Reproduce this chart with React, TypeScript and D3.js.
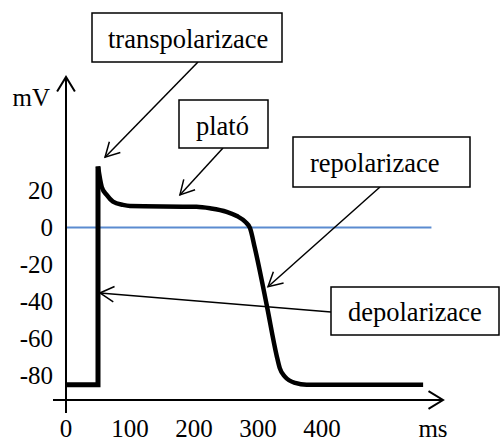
import React from "react";
import * as d3 from "d3";

// resting phase + upstroke (t in ms, v in mV)
const restPhase = [
  { t: 0, v: -85 },
  { t: 50, v: -85 },
  { t: 50, v: 33 },
];

// peak -> plateau -> repolarization -> rest
const actionPotential = [
  { t: 50, v: 33 },
  { t: 55.8, v: 22 },
  { t: 63.6, v: 17.6 },
  { t: 73.4, v: 14 },
  { t: 89, v: 12.2 },
  { t: 100, v: 11.6 },
  { t: 204, v: 11.2 },
  { t: 225, v: 10.4 },
  { t: 251, v: 8.5 },
  { t: 267, v: 6.2 },
  { t: 280, v: 3.1 },
  { t: 287.5, v: -0.3 },
  { t: 295, v: -11 },
  { t: 313.6, v: -41.9 },
  { t: 329, v: -69 },
  { t: 334, v: -76 },
  { t: 342, v: -80.6 },
  { t: 358, v: -84 },
  { t: 376, v: -85 },
  { t: 558, v: -85 },
];

const xTicks = [0, 100, 200, 300, 400];
const yTicks = [20, 0, -20, -40, -60, -80];
const zeroLineEnd = 571; // ms

const annotationLabels = ["transpolarizace", "plató", "repolarizace", "depolarizace"];
// where each arrow points, in chart units
const annotationTargets = [
  { t: 61, v: 38 },
  { t: 178, v: 17.6 },
  { t: 315.6, v: -32 },
  { t: 53, v: -35.4 },
];

const W = 501;
const H = 441;
const FONT = '"Liberation Serif"';

const x = d3.scaleLinear().domain([0, 400]).range([66, 322]);
const y = d3.scaleLinear().domain([-80, 20]).range([375.5, 190.5]);

// box layouts for the annotations
const boxes = [
  { x0: 92, y0: 13, w: 190, h: 49, tx: 108, ty: 48, from: [198, 62] },
  { x0: 179, y0: 100, w: 89, h: 48, tx: 196, ty: 135, from: [223, 148] },
  { x0: 293, y0: 137, w: 177, h: 50, tx: 310, ty: 172, from: [380, 187] },
  { x0: 331, y0: 287, w: 168, h: 48, tx: 348, ty: 321, from: [331, 312] },
];

function arrowHead(tx: number, ty: number, fx: number, fy: number, len: number, ang: number) {
  const a = Math.atan2(fy - ty, fx - tx);
  const p1 = [tx + len * Math.cos(a + ang), ty + len * Math.sin(a + ang)];
  const p2 = [tx + len * Math.cos(a - ang), ty + len * Math.sin(a - ang)];
  return `M${p1[0]},${p1[1]}L${tx},${ty}L${p2[0]},${p2[1]}`;
}

export default function App() {
  const linear = d3
    .line<{ t: number; v: number }>()
    .x((d) => x(d.t))
    .y((d) => y(d.v));
  const smooth = d3
    .line<{ t: number; v: number }>()
    .x((d) => x(d.t))
    .y((d) => y(d.v))
    .curve(d3.curveMonotoneX);

  const axisY = 400;
  const axisX = x(0);
  const txt = { fontFamily: FONT };

  return (
    <div style={{ position: "absolute", left: 0, top: 0 }}>
      <svg width={W} height={H} style={{ display: "block", background: "#fff" }}>
        {/* zero line */}
        <line x1={x(0)} x2={x(zeroLineEnd)} y1={y(0)} y2={y(0)} stroke="#5B8BD0" strokeWidth={2} />

        {/* axes */}
        <line x1={53} x2={443} y1={axisY} y2={axisY} stroke="#000" strokeWidth={2} />
        <path d={arrowHead(443, axisY, 400, axisY, 17, 0.55)} fill="none" stroke="#000" strokeWidth={2} />
        <line x1={axisX} x2={axisX} y1={77} y2={413} stroke="#000" strokeWidth={2} />
        <path d={arrowHead(axisX, 77, axisX, 200, 17, 0.55)} fill="none" stroke="#000" strokeWidth={2} />

        {/* tick labels */}
        {yTicks.map((v) => (
          <text key={v} x={53} y={y(v)} dy="0.35em" textAnchor="end" style={txt} fontSize={25}>
            {v}
          </text>
        ))}
        {xTicks.map((t) => (
          <text key={t} x={x(t)} y={437} textAnchor="middle" style={txt} fontSize={25}>
            {t}
          </text>
        ))}
        <text x={50} y={106} textAnchor="end" style={txt} fontSize={25}>
          mV
        </text>
        <text x={433} y={437} textAnchor="middle" style={txt} fontSize={25}>
          ms
        </text>

        {/* action potential trace */}
        <path d={linear(restPhase) ?? ""} fill="none" stroke="#000" strokeWidth={5} strokeLinejoin="miter" />
        <path d={smooth(actionPotential) ?? ""} fill="none" stroke="#000" strokeWidth={4.5} strokeLinejoin="round" />

        {/* annotations */}
        {annotationLabels.map((label, i) => {
          const b = boxes[i];
          const tx = x(annotationTargets[i].t);
          const ty = y(annotationTargets[i].v);
          const [fx, fy] = b.from;
          return (
            <g key={label}>
              <line x1={fx} y1={fy} x2={tx} y2={ty} stroke="#000" strokeWidth={1.5} />
              <path d={arrowHead(tx, ty, fx, fy, 16, 0.5)} fill="none" stroke="#000" strokeWidth={1.5} />
              <rect x={b.x0} y={b.y0} width={b.w} height={b.h} fill="#fff" stroke="#000" strokeWidth={1.5} />
              <text x={b.tx} y={b.ty} style={txt} fontSize={26.5}>
                {label}
              </text>
            </g>
          );
        })}
      </svg>
    </div>
  );
}
